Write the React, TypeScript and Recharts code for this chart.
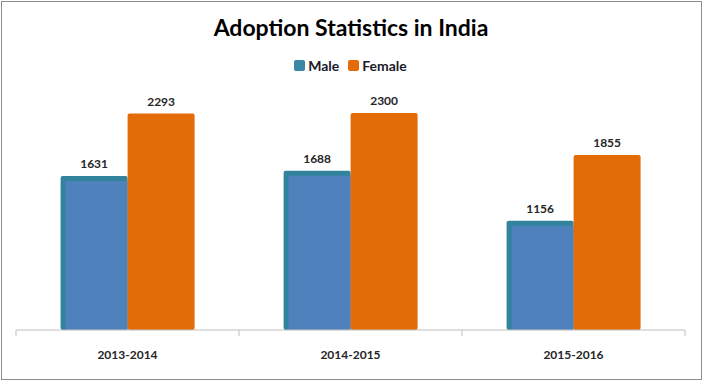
import React from 'react';
import { BarChart, Bar, XAxis, YAxis, Legend, LabelList } from 'recharts';

const years = ['2013-2014', '2014-2015', '2015-2016'];
const maleValues = [1631, 1688, 1156];
const femaleValues = [2293, 2300, 1855];

const data = years.map((year, i) => ({
  year,
  male: maleValues[i],
  female: femaleValues[i],
}));

const FONT = 'Lato, "Open Sans", sans-serif';
const W = 702;
const H = 380;
// the legend adds its own height on top of margin.top
const margin = { top: 77, right: 17, left: 16, bottom: 0 };
const band = (W - margin.left - margin.right) / years.length;

// male bars have a teal edge on the left and the top
const MaleShape = (props: any) => {
  const { x, y, width, height } = props;
  if (!height || height <= 0) return null;
  const e = 5;
  return (
    <g>
      <rect x={x} y={y} width={width} height={height} rx={2} fill="#31849B" />
      <rect x={x + e} y={y + e} width={width - e} height={height - e} fill="#4F81BD" />
    </g>
  );
};

const FemaleShape = (props: any) => {
  const { x, y, width, height } = props;
  if (!height || height <= 0) return null;
  return <rect x={x} y={y} width={width} height={height} rx={2} fill="#E36C09" />;
};

const YearTick = (props: any) => {
  const { x, y, payload, index } = props;
  const left = x - band / 2;
  return (
    <g>
      <line x1={left} y1={y - 8} x2={left} y2={y - 2} stroke="#BFBFBF" />
      {index === years.length - 1 && (
        <line x1={x + band / 2} y1={y - 8} x2={x + band / 2} y2={y - 2} stroke="#BFBFBF" />
      )}
      <text x={x} y={y + 21} textAnchor="middle" fontFamily={FONT} fontWeight={700} fontSize={12} fill="#262626">
        {payload.value}
      </text>
    </g>
  );
};

const LegendContent = () => (
  <div style={{ display: 'flex', justifyContent: 'center', gap: 9, fontFamily: FONT, fontWeight: 700, fontSize: 14, color: '#1a1a2a' }}>
    <span style={{ display: 'flex', alignItems: 'center' }}>
      <span style={{ width: 11, height: 11, background: '#3C86A8', borderRadius: 2, marginRight: 3 }} />
      Male
    </span>
    <span style={{ display: 'flex', alignItems: 'center' }}>
      <span style={{ width: 11, height: 11, background: '#E36C09', borderRadius: 2, marginRight: 3 }} />
      Female
    </span>
  </div>
);

export default function App() {
  return (
    <div style={{ position: 'absolute', left: 0, top: 0, width: W, height: H, background: '#fff' }}>
      <div
        style={{
          position: 'absolute', left: 1, top: 1, width: W - 3, height: H - 3,
          border: '1px solid #8C8C8C', pointerEvents: 'none',
        }}
      />
      <div
        style={{
          position: 'absolute', left: 0, top: 13, width: W, textAlign: 'center',
          fontFamily: FONT, fontWeight: 700, fontSize: 23, color: '#000',
        }}
      >
        Adoption Statistics in India
      </div>
      <BarChart width={W} height={H} data={data} margin={margin} barCategoryGap="20%" barGap={0}>
        <XAxis
          dataKey="year"
          height={50}
          axisLine={{ stroke: '#BFBFBF' }}
          tickLine={false}
          tick={<YearTick />}
          interval={0}
        />
        <YAxis hide domain={[0, 2500]} />
        <Legend verticalAlign="top" content={<LegendContent />} wrapperStyle={{ top: 57 }} />
        <Bar dataKey="male" name="Male" fill="#4F81BD" shape={<MaleShape />} isAnimationActive={false}>
          <LabelList dataKey="male" position="top" offset={8} fontFamily={FONT} fontWeight={700} fontSize={12} fill="#262626" />
        </Bar>
        <Bar dataKey="female" name="Female" fill="#E36C09" shape={<FemaleShape />} isAnimationActive={false}>
          <LabelList dataKey="female" position="top" offset={8} fontFamily={FONT} fontWeight={700} fontSize={12} fill="#262626" />
        </Bar>
      </BarChart>
    </div>
  );
}
